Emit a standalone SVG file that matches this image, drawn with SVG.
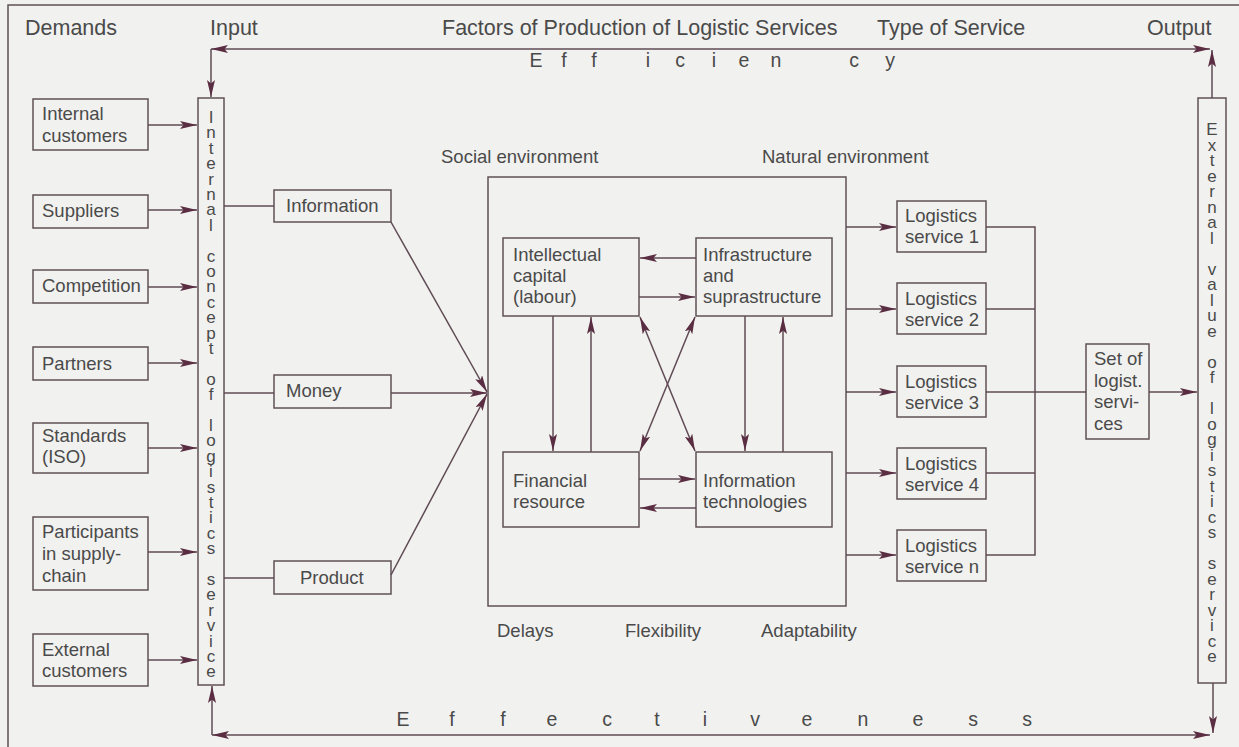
<svg xmlns="http://www.w3.org/2000/svg" width="1239" height="747" viewBox="0 0 1239 747">
<defs>
<style>
.bg{fill:#f1f1ef}
.frame{fill:none;stroke:#5f5258;stroke-width:1.5}
.box{fill:none;stroke:#5f5258;stroke-width:1.5}
.ln{fill:none;stroke:#5f4a55;stroke-width:1.5}
.ar{marker-end:url(#ah)}
.da{marker-start:url(#ah);marker-end:url(#ah)}
text{font-family:"Liberation Sans",Arial,Helvetica,sans-serif;fill:#4a4a4a}
.hd{font-size:21.5px}
.lb{font-size:18.5px}
.vt{font-size:17px;text-anchor:middle}
.sp{font-size:19.5px;text-anchor:middle}
</style>
<marker id="ah" viewBox="0 0 17 8" refX="17" refY="4" markerWidth="17" markerHeight="8" markerUnits="userSpaceOnUse" orient="auto-start-reverse">
<path d="M0,0 L17,4 L0,8 L3.5,4 z" fill="#5a2d42"/>
</marker>
</defs>

<rect class="bg" x="0" y="0" width="1239" height="747"/>
<!-- page frame: top rule and left rule -->
<path class="frame" d="M8,747 V5 H1239"/>

<!-- column headings -->
<g id="headings">
<text class="hd" x="25" y="35">Demands</text>
<text class="hd" x="210" y="35">Input</text>
<text class="hd" x="442" y="35">Factors of Production of Logistic Services</text>
<text class="hd" x="877" y="35">Type of Service</text>
<text class="hd" x="1147" y="35">Output</text>
</g>

<!-- spaced words along the feedback loops -->
<text id="efficiency" class="sp" y="67"><tspan x="536">E</tspan><tspan x="564">f</tspan><tspan x="594">f</tspan><tspan x="648">i</tspan><tspan x="680">c</tspan><tspan x="714">i</tspan><tspan x="744">e</tspan><tspan x="776">n</tspan><tspan x="854">c</tspan><tspan x="890">y</tspan></text>
<text id="effectiveness" class="sp" y="726"><tspan x="403">E</tspan><tspan x="452">f</tspan><tspan x="503">f</tspan><tspan x="552">e</tspan><tspan x="607">c</tspan><tspan x="657">t</tspan><tspan x="705">i</tspan><tspan x="755">v</tspan><tspan x="807">e</tspan><tspan x="863">n</tspan><tspan x="918">e</tspan><tspan x="973">s</tspan><tspan x="1027">s</tspan></text>

<!-- demands -->
<g id="internal-customers"><rect class="box" x="33" y="99" width="115" height="51"/><text class="lb" x="42" y="120">Internal</text><text class="lb" x="42" y="142">customers</text></g>
<g id="suppliers"><rect class="box" x="33" y="195" width="115" height="33"/><text class="lb" x="42" y="217">Suppliers</text></g>
<g id="competition"><rect class="box" x="33" y="270" width="115" height="33"/><text class="lb" x="42" y="292">Competition</text></g>
<g id="partners"><rect class="box" x="33" y="347" width="115" height="33"/><text class="lb" x="42" y="370">Partners</text></g>
<g id="standards"><rect class="box" x="33" y="423" width="115" height="50"/><text class="lb" x="42" y="442">Standards</text><text class="lb" x="42" y="463">(ISO)</text></g>
<g id="participants"><rect class="box" x="33" y="517" width="115" height="73"/><text class="lb" x="42" y="538">Participants</text><text class="lb" x="42" y="560">in supply-</text><text class="lb" x="42" y="582">chain</text></g>
<g id="external-customers"><rect class="box" x="33" y="634" width="115" height="52"/><text class="lb" x="42" y="656">External</text><text class="lb" x="42" y="677">customers</text></g>

<!-- input column -->
<g id="internal-concept">
<rect class="box" x="198" y="98" width="26" height="587"/>
<text class="vt"><tspan x="211" y="123">I</tspan><tspan x="211" dy="15.4">n</tspan><tspan x="211" dy="15.4">t</tspan><tspan x="211" dy="15.4">e</tspan><tspan x="211" dy="15.4">r</tspan><tspan x="211" dy="15.4">n</tspan><tspan x="211" dy="15.4">a</tspan><tspan x="211" dy="15.4">l</tspan><tspan x="211" dy="30.8">c</tspan><tspan x="211" dy="15.4">o</tspan><tspan x="211" dy="15.4">n</tspan><tspan x="211" dy="15.4">c</tspan><tspan x="211" dy="15.4">e</tspan><tspan x="211" dy="15.4">p</tspan><tspan x="211" dy="15.4">t</tspan><tspan x="211" dy="30.8">o</tspan><tspan x="211" dy="15.4">f</tspan><tspan x="211" dy="30.8">l</tspan><tspan x="211" dy="15.4">o</tspan><tspan x="211" dy="15.4">g</tspan><tspan x="211" dy="15.4">i</tspan><tspan x="211" dy="15.4">s</tspan><tspan x="211" dy="15.4">t</tspan><tspan x="211" dy="15.4">i</tspan><tspan x="211" dy="15.4">c</tspan><tspan x="211" dy="15.4">s</tspan><tspan x="211" dy="30.8">s</tspan><tspan x="211" dy="15.4">e</tspan><tspan x="211" dy="15.4">r</tspan><tspan x="211" dy="15.4">v</tspan><tspan x="211" dy="15.4">i</tspan><tspan x="211" dy="15.4">c</tspan><tspan x="211" dy="15.4">e</tspan></text>
</g>

<!-- factor inputs -->
<g id="information"><rect class="box" x="274" y="190" width="117" height="32"/><text class="lb" x="286" y="212">Information</text></g>
<g id="money"><rect class="box" x="274" y="375" width="117" height="33"/><text class="lb" x="286" y="397">Money</text></g>
<g id="product"><rect class="box" x="274" y="561" width="117" height="33"/><text class="lb" x="300" y="584">Product</text></g>

<!-- environment -->
<g id="environment">
<rect class="box" x="488" y="177" width="358" height="429"/>
<text class="lb" x="441" y="163">Social environment</text>
<text class="lb" x="762" y="163">Natural environment</text>
<text class="lb" x="497" y="637">Delays</text>
<text class="lb" x="625" y="637">Flexibility</text>
<text class="lb" x="761" y="637">Adaptability</text>
</g>
<g id="intellectual-capital"><rect class="box" x="503" y="238" width="136" height="78"/><text class="lb" x="513" y="261">Intellectual</text><text class="lb" x="513" y="282">capital</text><text class="lb" x="513" y="303">(labour)</text></g>
<g id="infrastructure"><rect class="box" x="696" y="238" width="136" height="78"/><text class="lb" x="703" y="261">Infrastructure</text><text class="lb" x="703" y="282">and</text><text class="lb" x="703" y="303">suprastructure</text></g>
<g id="financial-resource"><rect class="box" x="503" y="452" width="136" height="75"/><text class="lb" x="513" y="487">Financial</text><text class="lb" x="513" y="508">resource</text></g>
<g id="information-technologies"><rect class="box" x="696" y="452" width="136" height="75"/><text class="lb" x="703" y="487">Information</text><text class="lb" x="703" y="508">technologies</text></g>

<!-- services -->
<g id="service-1"><rect class="box" x="897" y="201" width="89" height="51"/><text class="lb" x="905" y="222">Logistics</text><text class="lb" x="905" y="243">service 1</text></g>
<g id="service-2"><rect class="box" x="897" y="283" width="89" height="51"/><text class="lb" x="905" y="305">Logistics</text><text class="lb" x="905" y="326">service 2</text></g>
<g id="service-3"><rect class="box" x="897" y="366" width="89" height="51"/><text class="lb" x="905" y="388">Logistics</text><text class="lb" x="905" y="409">service 3</text></g>
<g id="service-4"><rect class="box" x="897" y="448" width="89" height="51"/><text class="lb" x="905" y="470">Logistics</text><text class="lb" x="905" y="491">service 4</text></g>
<g id="service-n"><rect class="box" x="897" y="530" width="89" height="51"/><text class="lb" x="905" y="552">Logistics</text><text class="lb" x="905" y="573">service n</text></g>
<g id="service-set"><rect class="box" x="1086" y="344" width="63" height="95"/><text class="lb" x="1094" y="365">Set of</text><text class="lb" x="1094" y="387">logist.</text><text class="lb" x="1094" y="408">servi-</text><text class="lb" x="1094" y="430">ces</text></g>

<!-- output column -->
<g id="external-value">
<rect class="box" x="1198" y="98" width="28" height="585"/>
<text class="vt"><tspan x="1212" y="135">E</tspan><tspan x="1212" dy="15.5">x</tspan><tspan x="1212" dy="15.5">t</tspan><tspan x="1212" dy="15.5">e</tspan><tspan x="1212" dy="15.5">r</tspan><tspan x="1212" dy="15.5">n</tspan><tspan x="1212" dy="15.5">a</tspan><tspan x="1212" dy="15.5">l</tspan><tspan x="1212" dy="31">v</tspan><tspan x="1212" dy="15.5">a</tspan><tspan x="1212" dy="15.5">l</tspan><tspan x="1212" dy="15.5">u</tspan><tspan x="1212" dy="15.5">e</tspan><tspan x="1212" dy="31">o</tspan><tspan x="1212" dy="15.5">f</tspan><tspan x="1212" dy="31">l</tspan><tspan x="1212" dy="15.5">o</tspan><tspan x="1212" dy="15.5">g</tspan><tspan x="1212" dy="15.5">i</tspan><tspan x="1212" dy="15.5">s</tspan><tspan x="1212" dy="15.5">t</tspan><tspan x="1212" dy="15.5">i</tspan><tspan x="1212" dy="15.5">c</tspan><tspan x="1212" dy="15.5">s</tspan><tspan x="1212" dy="31">s</tspan><tspan x="1212" dy="15.5">e</tspan><tspan x="1212" dy="15.5">r</tspan><tspan x="1212" dy="15.5">v</tspan><tspan x="1212" dy="15.5">i</tspan><tspan x="1212" dy="15.5">c</tspan><tspan x="1212" dy="15.5">e</tspan></text>
</g>

<g id="connectors">
<!-- feedback loops -->
<path class="ln da" d="M211,49 H1210"/>
<path class="ln ar" d="M211,49 V97"/>
<path class="ln ar" d="M1212,98 V50"/>
<path class="ln da" d="M212,735 H1210"/>
<path class="ln ar" d="M212,735 V686"/>
<path class="ln ar" d="M1213,683 V733"/>
<!-- demands into input -->
<path class="ln ar" d="M148,125 H197"/>
<path class="ln ar" d="M148,210 H197"/>
<path class="ln ar" d="M148,287 H197"/>
<path class="ln ar" d="M148,363 H197"/>
<path class="ln ar" d="M148,448 H197"/>
<path class="ln ar" d="M148,552 H197"/>
<path class="ln ar" d="M148,660 H197"/>
<!-- input to factors -->
<path class="ln" d="M224,206 H274"/>
<path class="ln" d="M224,393 H274"/>
<path class="ln" d="M224,578 H274"/>
<path class="ln ar" d="M391,222 L487,392"/>
<path class="ln ar" d="M391,393 H487"/>
<path class="ln ar" d="M391,575 L487,394"/>
<!-- links between factors -->
<path class="ln ar" d="M696,258 H640"/>
<path class="ln ar" d="M639,297 H695"/>
<path class="ln ar" d="M553,316 V451"/>
<path class="ln ar" d="M591,452 V317"/>
<path class="ln ar" d="M745,316 V451"/>
<path class="ln ar" d="M783,452 V317"/>
<path class="ln ar" d="M639,479 H695"/>
<path class="ln ar" d="M696,508 H640"/>
<path class="ln da" d="M640,317 L695,451"/>
<path class="ln da" d="M695,317 L640,451"/>
<!-- environment to services -->
<path class="ln ar" d="M846,227 H896"/>
<path class="ln ar" d="M846,309 H896"/>
<path class="ln ar" d="M846,392 H896"/>
<path class="ln ar" d="M846,473 H896"/>
<path class="ln ar" d="M846,555 H896"/>
<!-- services gathered into the set -->
<path class="ln" d="M986,227 H1035 V555 H986"/>
<path class="ln" d="M986,309 H1035"/>
<path class="ln" d="M986,473 H1035"/>
<path class="ln" d="M986,392 H1086"/>
<path class="ln ar" d="M1149,392 H1197"/>
</g>
</svg>
